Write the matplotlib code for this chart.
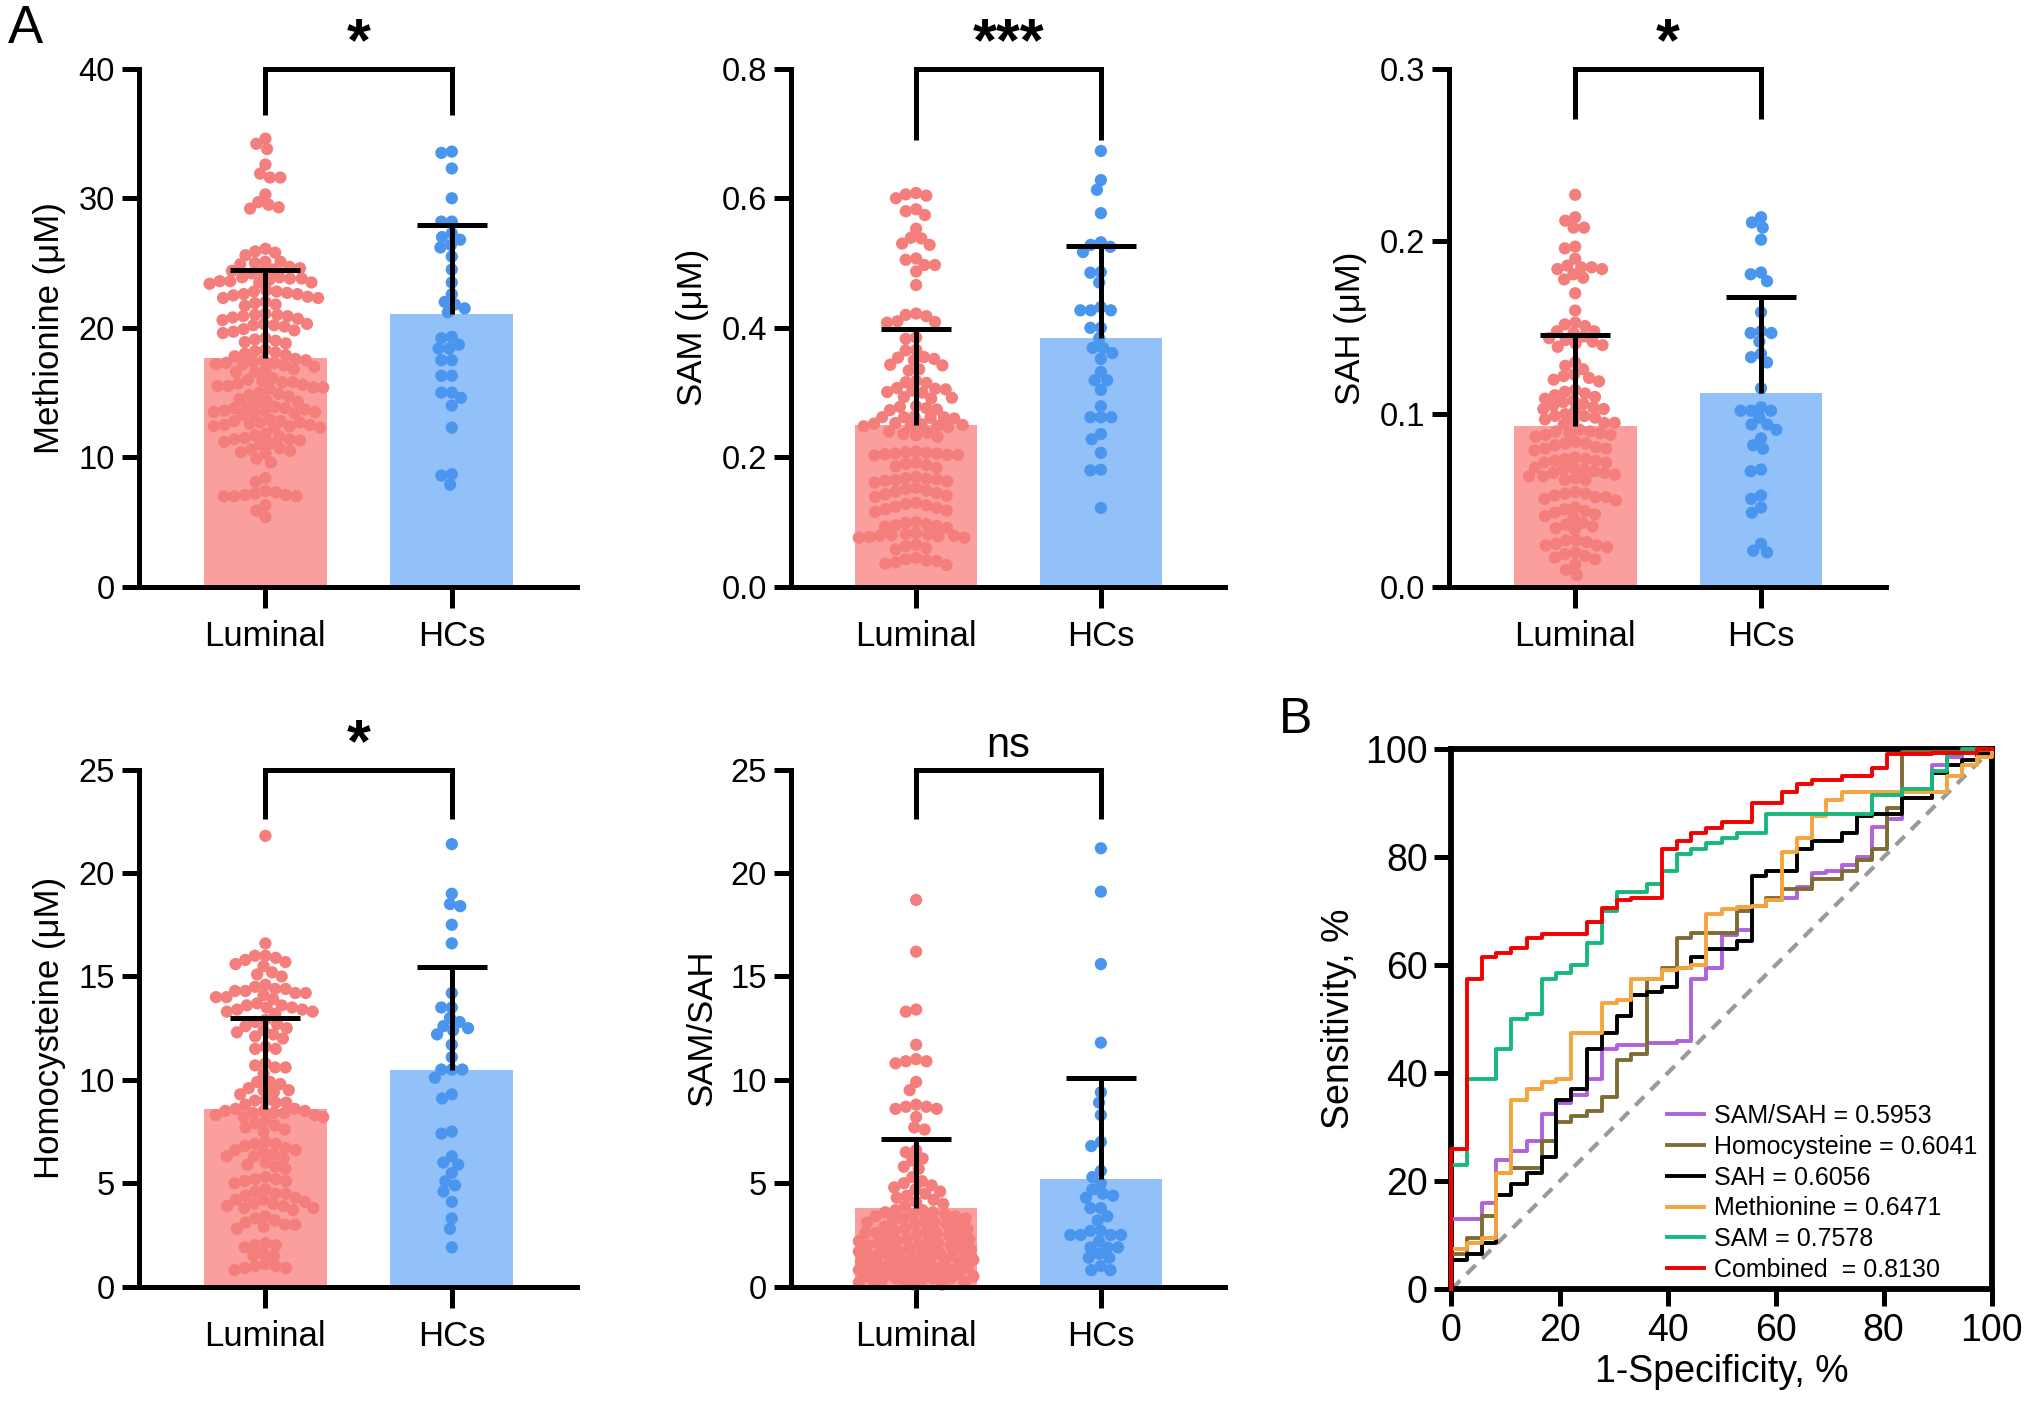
import numpy as np
import matplotlib
matplotlib.use('Agg')
import matplotlib.pyplot as plt

plt.rcParams['font.family'] = ['Liberation Sans', 'DejaVu Sans']

# ---------------- data ----------------
groups = ['Luminal', 'HCs']

met_lum = [34.6, 34.2, 33.8, 32.6, 31.9, 31.6, 31.6, 30.3, 29.7, 29.5, 29.3, 29.2,
           26.1, 25.9, 25.8, 25.6, 25.1, 25.0, 25.1, 24.9, 24.7, 24.6, 24.5, 24.4, 24.3, 24.2,
           23.9, 23.8, 23.8, 23.7, 23.6, 23.6, 23.5, 23.5, 23.4, 23.9,
           22.9, 22.8, 22.7, 22.6, 22.6, 22.5, 22.4, 22.3, 22.3, 22.8,
           22.0, 21.9, 21.8, 21.7, 21.1, 21.0, 21.0, 20.9, 20.8, 20.7, 20.6, 20.9,
           20.3, 20.2, 20.1, 20.3, 20.2, 19.9, 19.8, 19.7, 19.6, 19.2, 19.1, 19.0, 18.9, 18.8,
           18.3, 18.2, 18.1, 18.0, 17.9, 17.8,
           17.6, 17.5, 17.5, 17.4, 17.3, 17.3, 17.2, 17.2, 17.1, 17.0,
           16.8, 16.7, 16.6, 16.6,
           16.1, 16.0, 15.9, 15.8, 15.8, 15.7, 15.6, 15.5, 15.5, 15.4, 15.4, 15.3,
           15.0, 14.9, 14.8, 14.7, 14.5, 14.4, 14.3, 14.2,
           13.9, 13.9, 13.8, 13.8, 13.7, 13.6, 13.6, 13.5, 13.5, 13.4, 13.4, 13.3,
           12.9, 12.8, 12.8, 12.7, 12.7, 12.6, 12.5, 12.5, 12.4, 12.4, 12.3, 12.3,
           11.8, 11.7, 11.6, 11.5, 11.4, 11.4, 11.3, 11.2, 11.1, 11.0,
           10.7, 10.6, 10.5, 10.4, 10.3, 9.9, 9.6, 8.4, 8.1,
           7.4, 7.3, 7.2, 7.1, 7.1, 7.0, 7.0, 7.0, 6.3, 5.9, 5.4]
met_hc = [33.5, 33.6, 32.3, 30.0, 28.2, 28.2, 27.3, 26.4, 27.0, 26.8, 26.2,
          25.5, 24.5, 23.5, 22.6, 22.0, 21.8, 21.5, 21.2, 19.2, 19.3, 18.7, 18.4, 18.4,
          17.5, 17.5, 16.3, 16.3, 15.0, 15.0, 14.6, 14.0, 12.3, 8.6, 8.7, 7.9]

sam_lum = [0.608, 0.606, 0.604, 0.600, 0.583, 0.580, 0.574, 0.553, 0.539, 0.538, 0.530, 0.528,
           0.507, 0.505, 0.497, 0.497, 0.487, 0.466,
           0.422, 0.420, 0.418, 0.410, 0.409, 0.408, 0.385, 0.383, 0.366, 0.365,
           0.355, 0.354, 0.352, 0.350, 0.343, 0.342, 0.336, 0.334, 0.318, 0.316, 0.315,
           0.307, 0.306, 0.305, 0.303, 0.301, 0.300, 0.293, 0.292, 0.291,
           0.279, 0.278, 0.276, 0.274, 0.273, 0.263, 0.262, 0.262, 0.261, 0.260, 0.262,
           0.253, 0.252, 0.251, 0.250, 0.249, 0.248, 0.248, 0.247,
           0.240, 0.238, 0.236, 0.234, 0.232,
           0.209, 0.208, 0.207, 0.206, 0.206, 0.205, 0.204, 0.204, 0.203,
           0.192, 0.190, 0.188, 0.186, 0.184,
           0.170, 0.168, 0.167, 0.166, 0.165, 0.164, 0.163, 0.161,
           0.153, 0.151, 0.149, 0.147, 0.145, 0.143, 0.141, 0.139,
           0.130, 0.128, 0.126, 0.124, 0.122, 0.120, 0.118, 0.116,
           0.100, 0.099, 0.097, 0.095, 0.094, 0.093, 0.091,
           0.083, 0.082, 0.081, 0.080, 0.079, 0.079, 0.078, 0.077, 0.076, 0.076,
           0.065, 0.063, 0.060, 0.058,
           0.045, 0.043, 0.041, 0.040, 0.038, 0.036, 0.034]
sam_hc = [0.673, 0.628, 0.613, 0.577, 0.532, 0.528, 0.517, 0.525, 0.485, 0.486, 0.470,
          0.427, 0.432, 0.427, 0.427, 0.400, 0.400, 0.384, 0.369, 0.369, 0.352, 0.361,
          0.332, 0.319, 0.319, 0.304, 0.279, 0.262, 0.262, 0.262, 0.236, 0.228, 0.207,
          0.180, 0.181, 0.122]

sah_lum = [0.227, 0.214, 0.212, 0.208, 0.208, 0.197, 0.196, 0.190, 0.186, 0.185, 0.185,
           0.184, 0.184, 0.181, 0.179, 0.178, 0.170, 0.160,
           0.153, 0.152, 0.151, 0.148, 0.148, 0.147,
           0.145, 0.144, 0.143, 0.142, 0.141, 0.140, 0.139,
           0.130, 0.128, 0.126, 0.123, 0.122, 0.121, 0.120, 0.119,
           0.114, 0.113, 0.112, 0.111, 0.110, 0.109, 0.108,
           0.107, 0.106, 0.105, 0.104, 0.103, 0.103, 0.102,
           0.100, 0.099, 0.099, 0.098, 0.097, 0.096, 0.095, 0.095, 0.094,
           0.091, 0.090, 0.090, 0.089, 0.089, 0.088, 0.088, 0.087,
           0.084, 0.083, 0.083, 0.082, 0.081, 0.080, 0.080, 0.079,
           0.075, 0.074, 0.074, 0.073, 0.073, 0.072, 0.072,
           0.069, 0.069, 0.068, 0.068, 0.067, 0.066, 0.066, 0.065, 0.064, 0.064, 0.063, 0.062, 0.062,
           0.055, 0.054, 0.054, 0.053, 0.052, 0.052, 0.051, 0.050,
           0.046, 0.045, 0.044, 0.043, 0.042, 0.041, 0.040,
           0.037, 0.036, 0.035, 0.034, 0.033,
           0.027, 0.027, 0.026, 0.025, 0.024, 0.024, 0.023,
           0.020, 0.019, 0.018, 0.017, 0.016, 0.013, 0.010, 0.007]
sah_hc = [0.214, 0.211, 0.208, 0.201, 0.182, 0.181, 0.177, 0.159, 0.147, 0.147, 0.148,
          0.142, 0.135, 0.133, 0.130, 0.115, 0.104, 0.102, 0.102, 0.102, 0.098,
          0.094, 0.094, 0.091, 0.086, 0.082, 0.080, 0.067, 0.068, 0.053, 0.051,
          0.046, 0.043, 0.025, 0.021, 0.020]

hcy_lum = [21.8, 16.6, 16.0, 15.9, 16.0, 15.8, 15.7, 15.6, 15.5, 15.2, 15.1, 15.0,
           14.6, 14.5, 14.4, 14.4, 14.3, 14.2, 14.2, 14.1, 14.0, 14.0, 13.9, 14.3,
           13.7, 13.6, 13.6, 13.5, 13.5, 13.4, 13.4, 13.3, 13.3, 13.2,
           12.9, 12.8, 12.7, 12.6, 12.5, 12.4, 12.3, 12.2, 12.1, 12.0,
           11.6, 11.5, 11.5, 10.8, 10.7, 10.6, 10.6, 10.3, 9.9, 9.9, 9.8,
           9.6, 9.5, 9.5, 9.4, 9.3, 9.0, 9.0, 8.9, 8.9, 8.8,
           8.6, 8.6, 8.5, 8.5, 8.5, 8.4, 8.4, 8.4, 8.3, 8.3, 8.2, 8.2,
           8.0, 7.9, 7.8, 7.7, 7.6, 7.5,
           7.0, 6.9, 6.9, 6.8, 6.7, 6.6, 6.6, 6.5, 6.4, 6.3, 6.3, 6.2,
           6.0, 5.9, 5.8, 5.7, 5.3, 5.2, 5.2, 5.1, 5.1, 5.0,
           4.7, 4.6, 4.5, 4.4, 4.3, 4.2, 4.1, 4.0, 3.9, 3.9, 3.8, 3.7, 4.5, 4.2, 4.0, 3.8,
           3.4, 3.3, 3.2, 3.1, 3.0, 3.0, 2.9, 2.8,
           2.1, 2.0, 2.0, 1.9, 1.6, 1.5, 1.5, 1.1, 1.0, 1.0, 0.9, 0.9, 0.8]
hcy_hc = [21.4, 19.0, 18.4, 18.5, 17.5, 16.6, 14.2, 13.5, 13.5, 13.0, 12.8, 12.5, 12.6,
          12.4, 12.2, 11.7, 11.1, 10.5, 10.5, 10.5, 10.1, 9.3, 9.1, 7.5, 7.4, 6.3, 6.0,
          5.9, 5.5, 5.1, 4.9, 4.6, 4.1, 3.3, 2.8, 1.9]

ratio_lum = [18.7, 16.2, 13.4, 13.3, 11.7, 11.0, 10.9, 10.9, 10.8, 9.9, 9.5, 8.8, 8.7, 8.7,
             8.6, 8.6, 8.2, 7.7, 7.6, 6.6, 6.5, 6.2, 6.1, 5.8, 5.7,
             5.3, 5.1, 5.0, 4.9, 4.8, 4.7, 4.6, 4.5, 4.4, 4.3, 4.2, 4.1, 4.0, 3.9,
             3.7, 3.7, 3.6, 3.6, 3.5, 3.5, 3.4, 3.4, 3.3, 3.3, 3.2, 3.2, 3.1, 3.1, 3.0, 3.0,
             2.9, 2.9, 2.8, 2.8, 2.7, 2.7, 2.6, 2.6, 2.6, 2.5, 2.5, 2.4, 2.4, 2.3, 2.3,
             2.2, 2.2, 2.2, 2.1, 2.1, 2.0, 2.0, 2.0, 1.9, 1.9, 1.8, 1.8, 1.8, 1.7, 1.7,
             1.6, 1.6, 1.6, 1.5, 1.5, 1.5, 1.4, 1.4, 1.3, 1.3, 1.3, 1.2, 1.2, 1.2, 1.1, 1.1,
             1.0, 1.0, 1.0, 0.9, 0.9, 0.9, 0.8, 0.8, 0.8, 0.7, 0.7, 0.7, 0.6, 0.6, 0.6,
             0.5, 0.5, 0.5, 0.4, 0.4, 0.4, 0.3, 0.3, 0.3, 0.2, 0.2, 0.2, 0.1, 0.1]
ratio_hc = [21.2, 19.1, 15.6, 11.8, 9.4, 8.9, 8.3, 7.0, 6.8, 5.6, 5.3, 5.0, 4.7, 4.5,
            4.4, 4.3, 3.8, 3.8, 3.4, 3.2, 2.7, 2.7, 2.5, 2.5, 2.5, 2.5, 2.2, 1.9, 1.9,
            1.9, 1.6, 1.4, 1.4, 1.0, 0.8, 0.8]

met_mean = [17.7, 21.1]
met_sd = [6.8, 6.8]
sam_mean = [0.250, 0.384]
sam_sd = [0.148, 0.142]
sah_mean = [0.093, 0.1125]
sah_sd = [0.0527, 0.0555]
hcy_mean = [8.58, 10.46]
hcy_sd = [4.39, 5.02]
ratio_mean = [3.82, 5.20]
ratio_sd = [3.32, 4.89]

sig_labels = ['*', '***', '*', '*', 'ns']

# ROC curves (1-specificity %, sensitivity %)
roc_names = ['SAM/SAH = 0.5953', 'Homocysteine = 0.6041', 'SAH = 0.6056',
             'Methionine = 0.6471', 'SAM = 0.7578', 'Combined  = 0.8130']
ratio_fpr = [0, 0, 5.6, 8.3, 11.1, 13.9, 16.7, 19.4, 22.2, 25, 27.8, 30.6, 36.1, 41.7, 44.4,
             47.2, 50, 52.8, 55.6, 58.3, 61.1, 63.9, 66.7, 69.4, 72.2, 75, 77.8, 80.6, 83.3,
             88.9, 91.7, 94.4, 100]
ratio_tpr = [0, 13, 16, 24, 25.5, 27.5, 32.5, 34.5, 36, 39, 44.5, 45.2, 45.5, 46, 57.5,
             59.5, 65.5, 66.5, 71, 72, 72.5, 74.5, 77, 77.5, 78.5, 80, 85.5, 87, 91,
             97, 98.5, 99.5, 100]
hcy_fpr = [0, 0, 2.8, 5.6, 8.3, 11.1, 16.7, 19.4, 22.2, 25, 27.8, 30.6, 33.3, 36.1, 38.9,
           41.7, 44.4, 52.8, 55.6, 58.3, 61.1, 66.7, 72.2, 75, 77.8, 80.6, 83.3, 100]
hcy_tpr = [0, 6.5, 9.5, 13.5, 21.5, 22.5, 27.5, 31, 32, 33, 35.5, 42.5, 43.5, 57.5, 59.5,
           65, 66, 70, 71, 72.5, 74, 76, 77.5, 79.5, 81.5, 89, 99.5, 100]
sah_fpr = [0, 0, 2.8, 5.6, 8.3, 11.1, 13.9, 16.7, 19.4, 22.2, 25, 27.8, 30.6, 33.3, 36.1,
           38.9, 41.7, 44.4, 47.2, 50, 52.8, 55.6, 58.3, 63.9, 66.7, 72.2, 75, 77.8, 83.3,
           88.9, 91.7, 94.4, 97.2, 100]
sah_tpr = [0, 5.5, 6.5, 8.5, 17.5, 19.5, 21.5, 24.5, 35, 37, 44.5, 47.5, 50.5, 54.5, 55,
           56, 59.5, 61.5, 63, 63, 64.5, 76.5, 77.5, 81.5, 83, 84.5, 87.5, 88, 91,
           95.5, 97, 98, 99, 100]
met_fpr = [0, 0, 2.8, 5.6, 8.3, 11.1, 13.9, 16.7, 19.4, 22.2, 27.8, 30.6, 33.3, 38.9, 41.7,
           44.4, 47.2, 50, 52.8, 55.6, 58.3, 61.1, 63.9, 66.7, 69.4, 72.2, 91.7, 94.4, 97.2, 100]
met_tpr = [0, 7.5, 8.5, 9.5, 21.5, 35, 37, 38.3, 39, 47.5, 53, 53.5, 57.5, 59, 59.5,
           60, 69.5, 70.3, 70.8, 71, 72, 81, 83.5, 87.5, 90.5, 92, 95, 97, 98.5, 100]
samroc_fpr = [0, 0, 2.8, 8.3, 11.1, 13.9, 16.7, 19.4, 22.2, 25.0, 27.8, 30.6, 36.1, 38.9,
              41.7, 44.4, 47.2, 50.0, 52.8, 58.3, 77.8, 83.3, 88.9, 91.7, 94.4, 100]
samroc_tpr = [0, 23, 39, 44.5, 50, 51, 57.5, 58.5, 60, 64, 70, 73.5, 75, 77.5,
              80.5, 81.5, 82.5, 83.5, 84.5, 88, 91.5, 92.5, 96, 99, 100, 100]
comb_fpr = [0, 0, 2.8, 5.6, 8.3, 11.1, 13.9, 16.7, 25.0, 27.8, 30.6, 33.3, 38.9, 41.7,
            44.4, 47.2, 50.0, 55.6, 61.1, 63.9, 66.7, 72.2, 77.8, 80.6, 88.9, 97.2, 100]
comb_tpr = [0, 26, 57.5, 61.5, 62.3, 63.2, 65, 65.8, 68, 70.5, 72, 72.5, 81.5, 83,
            84.5, 85.3, 86.5, 90, 92, 93.5, 94.2, 95, 96.5, 99, 99.3, 100, 100]
roc_colors = ['#B062DE', '#7E6C34', '#000000', '#F6A43E', '#17B97A', '#F20000']

# ---------------- style ----------------
BAR_C = ['#FA9F9D', '#92C1FA']
DOT_C = ['#F47E7C', '#4A96EF']
LW = 3.6
FS = 23.5

W, H = 2032, 1402
fig = plt.figure(figsize=(W / 100, H / 100), dpi=100)


def fr(x0, y0, x1, y1):
    # displayed-reference pixel box (1568 x 1082) to figure fraction
    return [x0 / 1568, 1 - y1 / 1082, (x1 - x0) / 1568, (y1 - y0) / 1082]


def swarm_x(ax, xc, vals, d, half_w):
    pts = ax.transData.transform(np.column_stack([np.full(len(vals), xc), vals]))
    ys = pts[:, 1]
    x0 = pts[0, 0]
    lim = ax.transData.transform((xc + half_w, 0))[0] - x0
    order = np.argsort(-ys)
    placed = []
    xs = np.zeros(len(vals))
    grid = np.linspace(-lim, lim, 41)
    for i in order:
        y = ys[i]
        near = [(px, py) for px, py in placed if abs(py - y) < d]
        cands = [0.0]
        for px, py in near:
            dx = np.sqrt(max(d * d - (py - y) ** 2, 0))
            cands += [px + dx, px - dx]
        cands.sort(key=lambda c: (abs(c), c))
        chosen = None
        for c in cands:
            if abs(c) > lim + 1e-6:
                continue
            if all((c - px) ** 2 + (y - py) ** 2 >= d * d - 1e-6 for px, py in near):
                chosen = c
                break
        if chosen is None:
            best, bestd = 0.0, -1
            for g in grid:
                md = min((g - px) ** 2 + (y - py) ** 2 for px, py in near)
                if md > bestd + 1e-9:
                    best, bestd = g, md
            chosen = best
        xs[i] = chosen
        placed.append((chosen, y))
    disp = np.column_stack([x0 + xs, ys])
    return ax.transData.inverted().transform(disp)[:, 0]


def bar_panel(rect, lum, hc, means, sds, ymax, yticks, ytl, ylabel, sig, leg_low):
    ax = fig.add_axes(rect)
    ax.set_xlim(-0.68, 1.67)
    ax.set_ylim(0, ymax)
    xpos = [0, 1]
    ax.bar(xpos, means, width=0.66, color=BAR_C, zorder=1)
    for k, vals in enumerate([lum, hc]):
        xs = swarm_x(ax, xpos[k], np.array(vals), 10.5, 0.31)
        ax.scatter(xs, vals, s=78, color=DOT_C[k], edgecolors='none', zorder=2, clip_on=False)
    for k in range(2):
        _, caps, _ = ax.errorbar(xpos[k], means[k], yerr=[[0], [sds[k]]], fmt='none',
                                 ecolor='black', elinewidth=LW, capsize=25, capthick=LW,
                                 zorder=4)
        for cl in caps:
            if np.allclose(cl.get_ydata(), means[k]):
                cl.set_visible(False)
    ax.plot([0, 0, 1, 1], [leg_low, ymax, ymax, leg_low], color='black', lw=LW,
            clip_on=False, solid_joinstyle='miter', solid_capstyle='butt', zorder=5)
    if sig == 'ns':
        ax.annotate(sig, (0.5, ymax), xytext=(0, 3), textcoords='offset points',
                    ha='center', va='bottom', fontsize=30)
    else:
        ax.annotate(sig, (0.5, ymax), xytext=(0, -3), textcoords='offset points',
                    ha='center', va='bottom', fontsize=44, fontweight='bold')
    for s in ['top', 'right']:
        ax.spines[s].set_visible(False)
    for s in ['left', 'bottom']:
        ax.spines[s].set_linewidth(LW)
    ax.set_xticks(xpos)
    ax.set_xticklabels(groups, fontsize=25)
    ax.set_yticks(yticks)
    ax.set_yticklabels(ytl, fontsize=FS)
    ax.tick_params(axis='x', length=15, width=LW, pad=9)
    ax.tick_params(axis='y', length=12, width=LW, pad=5)
    ax.set_ylabel(ylabel, fontsize=25, labelpad=9)
    return ax


bar_panel(fr(107, 53, 445, 453), met_lum, met_hc, met_mean, met_sd, 40,
          [0, 10, 20, 30, 40], ['0', '10', '20', '30', '40'], 'Methionine (μM)', sig_labels[0], 36.4)
bar_panel(fr(610, 53, 945, 453), sam_lum, sam_hc, sam_mean, sam_sd, 0.8,
          [0, 0.2, 0.4, 0.6, 0.8], ['0.0', '0.2', '0.4', '0.6', '0.8'], 'SAM (μM)', sig_labels[1], 0.69)
bar_panel(fr(1118, 53, 1455, 453), sah_lum, sah_hc, sah_mean, sah_sd, 0.3,
          [0, 0.1, 0.2, 0.3], ['0.0', '0.1', '0.2', '0.3'], 'SAH (μM)', sig_labels[2], 0.271)
bar_panel(fr(107, 594, 445, 993), hcy_lum, hcy_hc, hcy_mean, hcy_sd, 25,
          [0, 5, 10, 15, 20, 25], ['0', '5', '10', '15', '20', '25'], 'Homocysteine (μM)', sig_labels[3], 22.6)
bar_panel(fr(610, 594, 945, 993), ratio_lum, ratio_hc, ratio_mean, ratio_sd, 25,
          [0, 5, 10, 15, 20, 25], ['0', '5', '10', '15', '20', '25'], 'SAM/SAH', sig_labels[4], 22.6)

# ROC panel
ax = fig.add_axes(fr(1120, 578, 1537, 995))
ax.plot([0, 100], [0, 100], color='#9A9A9A', lw=3, dashes=(3, 2.2), zorder=1)
curves = [(ratio_fpr, ratio_tpr), (hcy_fpr, hcy_tpr), (sah_fpr, sah_tpr),
          (met_fpr, met_tpr), (samroc_fpr, samroc_tpr), (comb_fpr, comb_tpr)]
for (fx, ty), name, c in zip(curves, roc_names, roc_colors):
    ax.plot(fx, ty, drawstyle='steps-post', color=c, lw=2.8, label=name, zorder=3,
            clip_on=False)
ax.set_xlim(0, 100)
ax.set_ylim(0, 100)
for s in ax.spines.values():
    s.set_linewidth(4.2)
ax.set_xticks([0, 20, 40, 60, 80, 100])
ax.set_yticks([0, 20, 40, 60, 80, 100])
ax.tick_params(labelsize=27, length=12, width=LW, pad=5)
ax.set_xlabel('1-Specificity, %', fontsize=27, labelpad=4)
ax.set_ylabel('Sensitivity, %', fontsize=27, labelpad=6)
ax.legend(loc='lower left', bbox_to_anchor=(0.385, 0.0), frameon=False, fontsize=18,
          handlelength=1.5, handletextpad=0.4, labelspacing=0.27, borderpad=0.2,
          borderaxespad=0.1)

fig.text(20 / 1568, 1 - 22 / 1082, 'A', fontsize=38, ha='center', va='center')
fig.text(1000 / 1568, 1 - 556 / 1082, 'B', fontsize=36, ha='center', va='center')

fig.savefig('out.png', dpi=100)
